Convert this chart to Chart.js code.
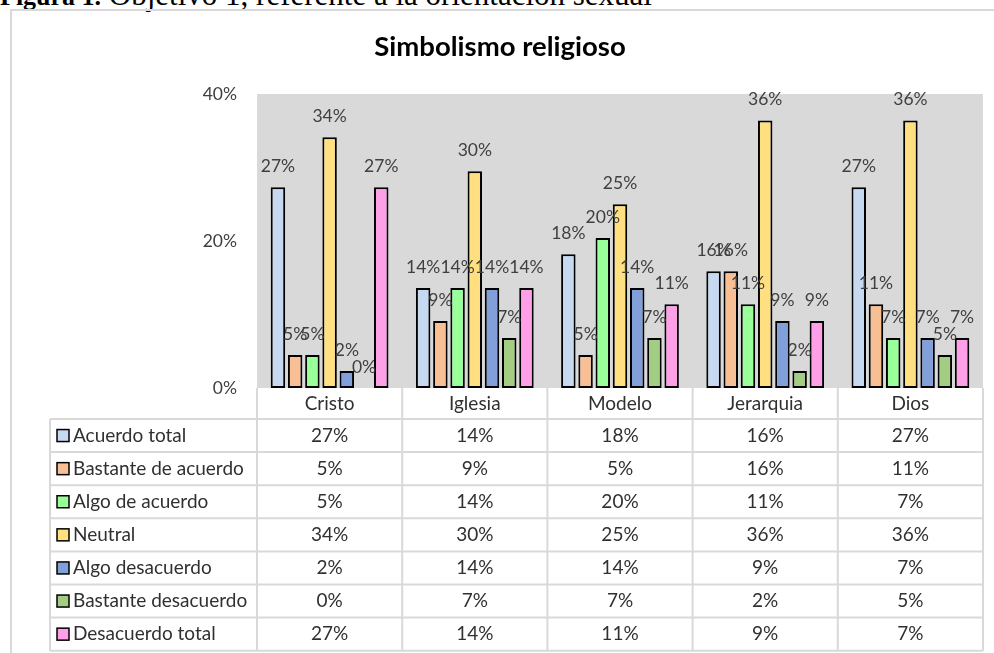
<!DOCTYPE html>
<html>
<head>
<meta charset="utf-8">
<script src="https://cdn.jsdelivr.net/npm/chart.js@4.4.1/dist/chart.umd.min.js"></script>
<style>
    html, body { margin: 0; padding: 0; background: #fff; }
    #wrap { position: relative; width: 994px; height: 653px; overflow: hidden; }
    #caption {
        position: absolute; left: 0; top: -21px; white-space: nowrap; color: #000;
        font: 31px/31px "Liberation Serif", "Times New Roman", serif;
    }
    #caption b { font-size: 26px; }
    #frame {
        position: absolute; left: 10px; top: 9px; width: 1000px; height: 700px;
        border: 2px solid #d9d9d9; box-sizing: border-box;
    }
    #chart { position: absolute; left: 0; top: 0; }
</style>
</head>
<body>
<div id="wrap">
    <div id="caption"><b>Figura 1.</b> Objetivo 1, referente a la orientación sexual</div>
    <div id="frame"></div>
    <canvas id="chart" width="994" height="653"></canvas>
</div>
<script>
// values (percent)
const categories = ["Cristo", "Iglesia", "Modelo", "Jerarquia", "Dios"];
const seriesNames = ["Acuerdo total", "Bastante de acuerdo", "Algo de acuerdo", "Neutral",
                     "Algo desacuerdo", "Bastante desacuerdo", "Desacuerdo total"];
const acuerdoTotal       = [27.3, 13.6, 18.2, 15.9, 27.3];
const bastanteAcuerdo    = [4.5, 9.1, 4.5, 15.9, 11.4];
const algoAcuerdo        = [4.5, 13.6, 20.4, 11.4, 6.8];
const neutral            = [34.1, 29.5, 25.0, 36.4, 36.4];
const algoDesacuerdo     = [2.3, 13.6, 13.6, 9.1, 6.8];
const bastanteDesacuerdo = [0, 6.8, 6.8, 2.3, 4.5];
const desacuerdoTotal    = [27.3, 13.6, 11.4, 9.1, 6.8];
const yTicks = [0, 20, 40];

const seriesValues = [acuerdoTotal, bastanteAcuerdo, algoAcuerdo, neutral,
                      algoDesacuerdo, bastanteDesacuerdo, desacuerdoTotal];
const colors = ["#c6d9f1", "#f8be94", "#99ff99", "#ffdf80", "#819fd8", "#a4cd84", "#fe9fe8"];

const FONT = "Lato, 'Open Sans', sans-serif";
const pct = v => Math.round(v) + "%";

// grey plot background
const plotBg = {
    id: "plotBg",
    beforeDatasetsDraw(chart) {
        const { ctx, chartArea: a } = chart;
        ctx.save();
        ctx.fillStyle = "#d9d9d9";
        ctx.fillRect(a.left, a.top, a.right - a.left, a.bottom - a.top);
        ctx.restore();
    }
};

// value labels over the bars + title
const barLabels = {
    id: "barLabels",
    afterDatasetsDraw(chart) {
        const ctx = chart.ctx;
        ctx.save();
        ctx.font = "17.5px " + FONT;
        ctx.fillStyle = "#404040";
        ctx.textAlign = "center";
        ctx.textBaseline = "middle";
        chart.data.datasets.forEach((ds, i) => {
            chart.getDatasetMeta(i).data.forEach((bar, j) => {
                ctx.fillText(pct(ds.data[j]), bar.x, bar.y - 21);
            });
        });
        ctx.font = "bold 27.5px " + FONT;
        ctx.fillStyle = "#000";
        ctx.textBaseline = "alphabetic";
        ctx.fillText("Simbolismo religioso", 500, 56);
        ctx.restore();
    }
};

// data table under the plot
const dataTable = {
    id: "dataTable",
    afterDraw(chart) {
        const { ctx, chartArea: a } = chart;
        const xs = chart.scales.x;
        const catW = (a.right - a.left) / categories.length;
        const headTop = a.bottom, headBot = a.bottom + 31, rowH = 33.1, left = 50;
        const bottom = headBot + rowH * seriesNames.length;

        ctx.save();
        ctx.strokeStyle = "#d9d9d9";
        ctx.lineWidth = 2;
        ctx.beginPath();
        for (let r = 0; r <= seriesNames.length; r++) {
            const y = headBot + r * rowH;
            ctx.moveTo(left, y); ctx.lineTo(a.right, y);
        }
        for (let k = 0; k <= categories.length; k++) {
            const x = a.left + k * catW;
            ctx.moveTo(x, headTop); ctx.lineTo(x, bottom);
        }
        ctx.moveTo(left, headBot); ctx.lineTo(left, bottom);
        ctx.stroke();

        ctx.font = "19px " + FONT;
        ctx.fillStyle = "#303030";
        ctx.textBaseline = "middle";
        ctx.textAlign = "center";
        categories.forEach((c, j) => ctx.fillText(c, xs.getPixelForValue(j), (headTop + headBot) / 2));

        seriesNames.forEach((name, i) => {
            const cy = headBot + rowH * i + rowH / 2;
            ctx.fillStyle = colors[i];
            ctx.fillRect(57, cy - 6, 12, 12);
            ctx.strokeStyle = "#000";
            ctx.lineWidth = 1.5;
            ctx.strokeRect(57, cy - 6, 12, 12);
            ctx.fillStyle = "#303030";
            ctx.textAlign = "left";
            ctx.fillText(name, 73, cy);
            ctx.textAlign = "center";
            seriesValues[i].forEach((v, j) => ctx.fillText(pct(v), xs.getPixelForValue(j), cy));
        });
        ctx.restore();
    }
};

new Chart(document.getElementById("chart"), {
    type: "bar",
    data: {
        labels: categories,
        datasets: seriesNames.map((name, i) => ({
            label: name,
            data: seriesValues[i],
            backgroundColor: colors[i],
            borderColor: "#000",
            borderWidth: 2,
            borderSkipped: false,
            categoryPercentage: 0.83,
            barPercentage: 0.84
        }))
    },
    options: {
        responsive: false,
        animation: false,
        layout: { padding: { left: 0, top: 94, right: 11, bottom: 265 } },
        plugins: { legend: { display: false }, tooltip: { enabled: false }, title: { display: false } },
        scales: {
            x: { display: false },
            y: {
                min: 0, max: 40,
                afterFit(scale) { scale.width = 257; },
                afterBuildTicks(scale) { scale.ticks = yTicks.map(v => ({ value: v })); },
                grid: { display: false, drawTicks: false },
                border: { display: false },
                ticks: {
                    padding: 20,
                    color: "#404040",
                    font: { family: FONT, size: 17.5 },
                    callback: v => v + "%"
                }
            }
        }
    },
    plugins: [plotBg, barLabels, dataTable]
});
</script>
</body>
</html>
